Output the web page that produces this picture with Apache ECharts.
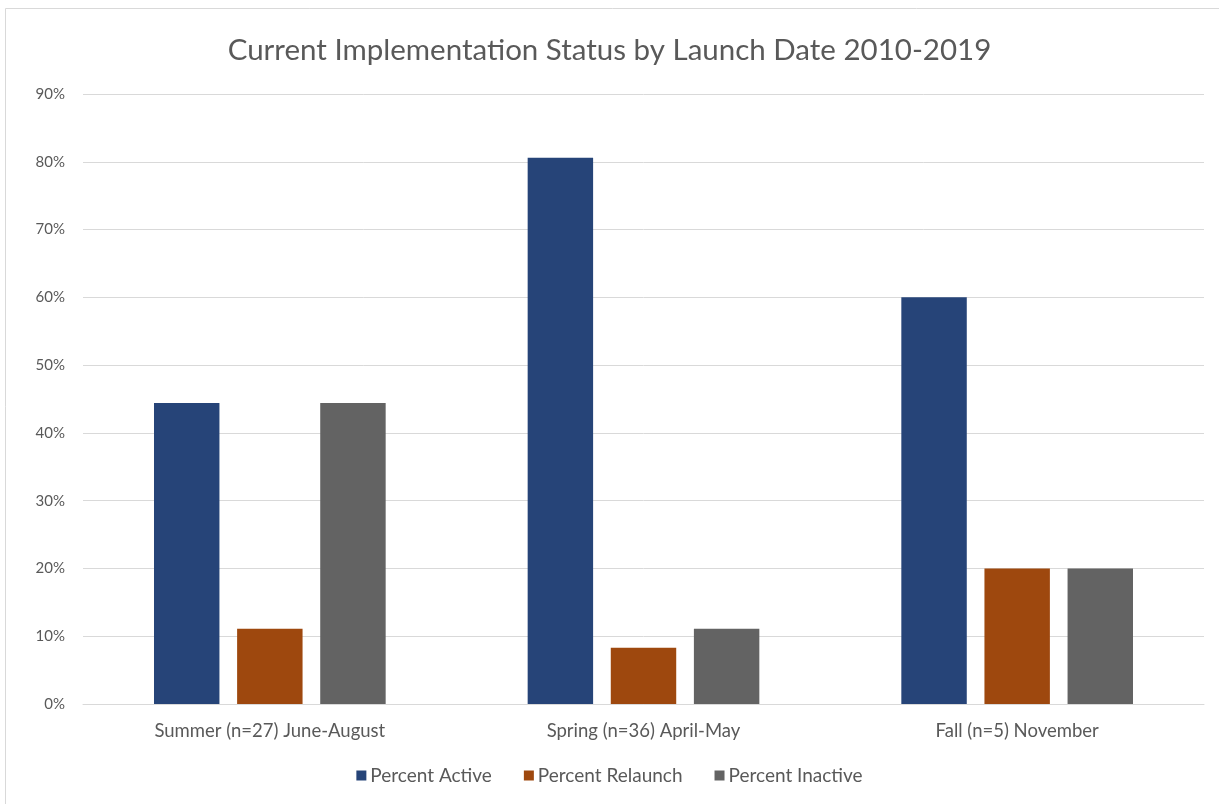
<!DOCTYPE html>
<html>
<head>
<meta charset="utf-8">
<script src="https://cdn.jsdelivr.net/npm/echarts@6/dist/echarts.min.js"></script>
<style>
  html, body { margin: 0; padding: 0; background: #ffffff; }
  #chart { width: 1219px; height: 804px; }
</style>
</head>
<body>
<div id="chart"></div>
<script>
// Launch-season groups and share of programs in each status (percent)
const categories = ['Summer (n=27) June-August', 'Spring (n=36) April-May', 'Fall (n=5) November'];
const percentActive = [44.4, 80.6, 60];
const percentRelaunch = [11.1, 8.3, 20];
const percentInactive = [44.4, 11.1, 20];
const seriesNames = ['Percent Active', 'Percent Relaunch', 'Percent Inactive'];
const colors = ['#264478', '#9E480E', '#636363'];

const font = 'Lato, "Open Sans", sans-serif';
const textColor = '#595959';

const chart = echarts.init(document.getElementById('chart'), null, { renderer: 'canvas' });

function barSeries(name, data, color) {
  return {
    name: name,
    type: 'bar',
    data: data,
    barGap: '27%',
    barCategoryGap: '38%',
    itemStyle: { color: color },
    emphasis: { disabled: true }
  };
}

chart.setOption({
  animation: false,
  textStyle: { fontFamily: font },
  graphic: [{
    type: 'rect',
    shape: { x: 5.5, y: 8.5, width: 1230, height: 820 },
    style: { fill: 'none', stroke: '#d9d9d9', lineWidth: 1 },
    silent: true
  }],
  title: {
    text: 'Current Implementation Status by Launch Date 2010-2019',
    left: 'center',
    top: 30,
    textStyle: { fontFamily: font, fontSize: 29.5, fontWeight: 'normal', color: textColor }
  },
  legend: {
    bottom: 14,
    left: 'center',
    itemWidth: 10,
    itemHeight: 10,
    itemGap: 32,
    icon: 'rect',
    textStyle: { fontFamily: font, fontSize: 19, color: textColor, padding: [0, 0, 0, -1] },
    data: seriesNames
  },
  grid: { left: 83, right: 15, top: 94, bottom: 100, containLabel: false },
  xAxis: {
    type: 'category',
    data: categories,
    axisLine: { lineStyle: { color: '#d9d9d9', width: 1 } },
    axisTick: { show: false },
    axisLabel: { fontFamily: font, fontSize: 18.5, color: textColor, margin: 18 }
  },
  yAxis: {
    type: 'value',
    min: 0,
    max: 90,
    interval: 10,
    axisLine: { show: false },
    axisTick: { show: false },
    splitLine: { lineStyle: { color: '#d9d9d9', width: 1 } },
    axisLabel: { fontFamily: font, fontSize: 15, color: textColor, margin: 18, formatter: '{value}%' }
  },
  series: [
    barSeries(seriesNames[0], percentActive, colors[0]),
    barSeries(seriesNames[1], percentRelaunch, colors[1]),
    barSeries(seriesNames[2], percentInactive, colors[2])
  ]
});
</script>
</body>
</html>
